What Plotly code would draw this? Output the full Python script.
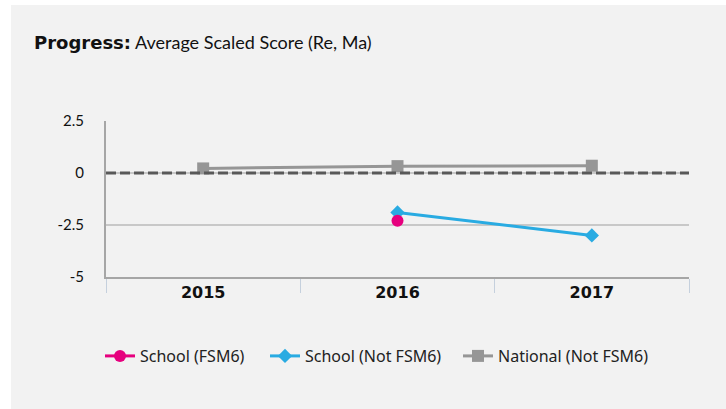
import plotly.graph_objects as go

years = ["2015", "2016", "2017"]
school_fsm6 = [None, -2.3, None]
school_not_fsm6 = [None, -1.9, -3.0]
national_not_fsm6 = [0.22, 0.33, 0.35]
y_ticks = [-5, -2.5, 0, 2.5]
y_tick_labels = ["-5", "-2.5", "0", "2.5"]

fig = go.Figure()

fig.add_trace(go.Scatter(
    x=years, y=national_not_fsm6, name="National (Not FSM6)",
    mode="lines+markers",
    line=dict(color="#969696", width=3),
    marker=dict(symbol="square", size=12, color="#969696"),
    legendwidth=160,
))
fig.add_trace(go.Scatter(
    x=years, y=school_not_fsm6, name="School (Not FSM6)",
    mode="lines+markers",
    line=dict(color="#29abe2", width=3),
    marker=dict(symbol="diamond", size=11, color="#29abe2"),
    legendwidth=148,
))
fig.add_trace(go.Scatter(
    x=years, y=school_fsm6, name="School (FSM6)",
    mode="lines+markers",
    line=dict(color="#e6007e", width=3),
    marker=dict(symbol="circle", size=12, color="#e6007e"),
    legendwidth=120,
))

# zero reference line
fig.add_shape(type="line", xref="paper", yref="y", x0=0, x1=1, y0=0, y1=0,
              line=dict(color="#595959", width=3, dash="10px,4px"), layer="above")

# white frame strips at left and top of the grey panel
fig.add_shape(type="rect", xref="paper", yref="paper",
              x0=-106 / 583, x1=-95 / 583, y0=-1.0, y1=2.0,
              fillcolor="white", line=dict(width=0), layer="below")
fig.add_shape(type="rect", xref="paper", yref="paper",
              x0=-0.3, x1=1.2, y0=(409 - 5 - 132) / 156, y1=2.0,
              fillcolor="white", line=dict(width=0), layer="below")

fig.update_layout(
    width=726, height=409,
    margin=dict(l=106, r=37, t=121, b=132),
    paper_bgcolor="#f2f2f2",
    plot_bgcolor="#f2f2f2",
    font=dict(family="Lato, sans-serif", color="#111111", size=14),
    title=dict(
        text="<span style='font-family:DejaVu Sans;font-weight:bold'>Progress:</span> Average Scaled Score (Re, Ma)",
        x=34 / 726, xanchor="left", y=1 - 43 / 409, yanchor="middle",
        font=dict(size=18, color="#111111"),
    ),
    showlegend=True,
    legend=dict(
        orientation="h", x=100 / 583 - 106 / 583, xanchor="left",
        y=-79 / 156, yanchor="middle",
        traceorder="reversed",
        font=dict(family="Noto Sans, sans-serif", size=16, color="#222222"),
        bgcolor="rgba(0,0,0,0)",
        itemwidth=30,
    ),
)

fig.update_xaxes(
    type="category",
    showgrid=False,
    showline=True, linecolor="#a6a6a6", linewidth=2,
    ticks="outside", tickson="boundaries", ticklen=14, tickcolor="#c5d0dd", tickwidth=1,
    tickfont=dict(family="DejaVu Sans, sans-serif", size=16, color="#111111", weight="bold"),
    range=[-0.5, 2.5],
)
fig.update_yaxes(
    range=[-5, 2.5], tickvals=y_ticks, ticktext=y_tick_labels,
    showgrid=True, gridcolor="#c8c8c8", gridwidth=1.5,
    showline=True, linecolor="#a6a6a6", linewidth=2,
    zeroline=False, ticks="", ticklabelstandoff=17,
    tickfont=dict(size=15, color="#111111"),
)

fig.write_html(
    "out.html",
    config={"displayModeBar": False},
    post_script="document.body.style.margin='0';document.body.style.background='#f2f2f2';document.body.style.overflow='hidden';",
)
